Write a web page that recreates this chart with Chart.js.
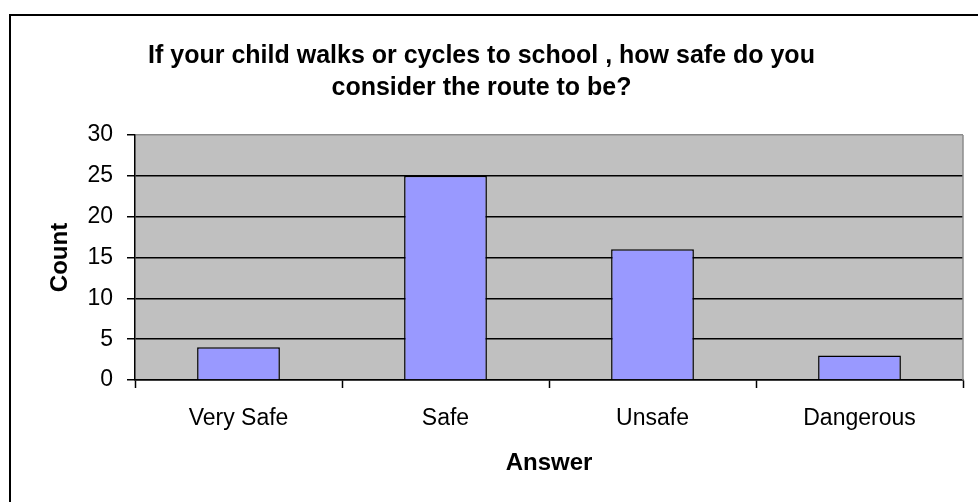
<!DOCTYPE html>
<html>
<head>
<meta charset="utf-8">
<script src="https://cdn.jsdelivr.net/npm/chart.js@4/dist/chart.umd.min.js"></script>
<style>
  html, body { margin: 0; padding: 0; background: #fff; }
  #grafica { display: block; }
</style>
</head>
<body>
<canvas id="grafica" width="978" height="502"></canvas>
<script>
// --- DATOS ---
const categorias = ['Very Safe', 'Safe', 'Unsafe', 'Dangerous'];
const conteos = [4, 25, 16, 3];
const tituloLineas = ['If your child walks or cycles to school , how safe do you', 'consider the route to be?'];
const ejeYMax = 30;
const ejeYPaso = 5;

const FUENTE = "'Liberation Sans', Arial, sans-serif";

// fondo gris del area, borde gris a la derecha y marco exterior
const fondoPlot = {
    id: 'fondoPlot',
    beforeDraw(chart) {
        const { ctx, chartArea: a } = chart;
        ctx.save();
        ctx.fillStyle = '#c0c0c0';
        ctx.fillRect(a.left, a.top, a.right - a.left, a.bottom - a.top);
        ctx.restore();
    },
    afterDraw(chart) {
        const { ctx, chartArea: a } = chart;
        ctx.save();
        ctx.strokeStyle = '#8c8c8c';
        ctx.lineWidth = 1.5;
        ctx.beginPath();
        ctx.moveTo(a.right, a.top);
        ctx.lineTo(a.right, a.bottom);
        ctx.stroke();
        // marco exterior (solo arriba e izquierda visibles)
        ctx.strokeStyle = '#000';
        ctx.lineWidth = 2;
        ctx.beginPath();
        ctx.moveTo(10, chart.height);
        ctx.lineTo(10, 15);
        ctx.lineTo(chart.width, 15);
        ctx.stroke();
        ctx.restore();
    }
};

new Chart(document.getElementById('grafica'), {
    type: 'bar',
    data: {
        labels: categorias,
        datasets: [{
            data: conteos,
            backgroundColor: '#9999ff',
            borderColor: '#000',
            borderWidth: 1.5,
            categoryPercentage: 1,
            barPercentage: 0.4
        }]
    },
    options: {
        responsive: false,
        devicePixelRatio: 1,
        animation: false,
        layout: { padding: { left: 0, right: 15, top: 0, bottom: 0 } },
        plugins: {
            legend: { display: false },
            tooltip: { enabled: false },
            title: {
                display: true,
                text: tituloLineas,
                color: '#000',
                font: { family: FUENTE, size: 25, weight: 'bold', lineHeight: 1.28 },
                padding: { top: 40, bottom: 31 }
            }
        },
        scales: {
            x: {
                afterFit: (s) => { s.height = 122; },
                border: { color: '#000', width: 1.5 },
                grid: {
                    offset: true,
                    drawOnChartArea: false,
                    drawTicks: true,
                    tickLength: 8,
                    tickColor: '#000',
                    tickWidth: 1.5
                },
                ticks: {
                    color: '#000',
                    padding: 17,
                    maxRotation: 0,
                    font: { family: FUENTE, size: 23 }
                },
                title: {
                    display: true,
                    text: 'Answer',
                    color: '#000',
                    font: { family: FUENTE, size: 24, weight: 'bold' },
                    padding: { top: 0, bottom: 24 }
                }
            },
            y: {
                min: 0,
                max: ejeYMax,
                afterFit: (s) => { s.width = 135; },
                border: { color: '#000', width: 1.5 },
                grid: {
                    color: (c) => (c.tick && c.tick.value === ejeYMax) ? '#8c8c8c' : '#000',
                    lineWidth: 1.5,
                    tickLength: 8,
                    tickColor: '#000',
                    tickWidth: 1.5
                },
                ticks: {
                    stepSize: ejeYPaso,
                    color: '#000',
                    padding: 14,
                    font: { family: FUENTE, size: 23 }
                },
                title: {
                    display: true,
                    text: 'Count',
                    color: '#000',
                    font: { family: FUENTE, size: 24, weight: 'bold' },
                    padding: { top: 46, bottom: 0 }
                }
            }
        }
    },
    plugins: [fondoPlot]
});
</script>
</body>
</html>
